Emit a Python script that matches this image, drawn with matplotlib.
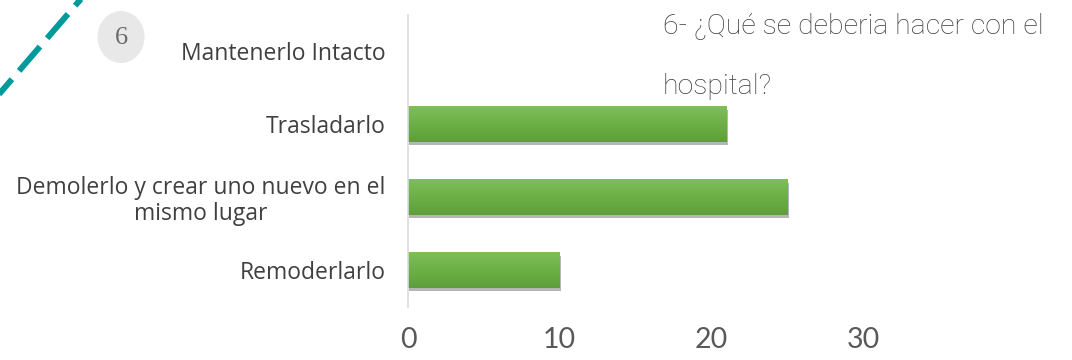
import matplotlib
matplotlib.use("Agg")
import matplotlib.pyplot as plt
import matplotlib.patheffects as pe
import numpy as np
from matplotlib.patches import Ellipse
from matplotlib.lines import Line2D
from matplotlib.colors import LinearSegmentedColormap

categories = ["Mantenerlo Intacto", "Trasladarlo",
              "Demolerlo y crear uno nuevo en el\nmismo lugar", "Remoderlarlo"]
values = [0, 21, 25, 10]
xticks = [0, 10, 20, 30]
title_lines = ["6- ¿Qué se deberia hacer con el", "hospital?"]

W, H = 1072, 360
fig = plt.figure(figsize=(W / 100, H / 100), dpi=100)
fig.patch.set_facecolor("white")

ax = fig.add_axes([408 / W, 1 - 306.5 / H, (863 - 408) / W, (306.5 - 14.5) / H])
ypos = np.arange(len(categories))
bars = ax.barh(ypos, values, height=0.48, color="#6cb045", linewidth=0,
               path_effects=[pe.SimplePatchShadow(offset=(1.0, -2.5), shadow_rgbFace="#7a7a7a", alpha=0.55),
                             pe.Normal()])

grad = np.linspace(0, 1, 64).reshape(-1, 1)
cmap = LinearSegmentedColormap.from_list("g", ["#7fbe58", "#6cb045", "#5e9e3c"])
for b in bars:
    if b.get_width() <= 0:
        continue
    x0, y0 = b.get_x(), b.get_y()
    w, h = b.get_width(), b.get_height()
    im = ax.imshow(grad, cmap=cmap, aspect="auto", extent=(x0, x0 + w, y0 + h, y0),
                   origin="upper", zorder=b.get_zorder() + 0.1)
    im.set_clip_path(b)
ax.set_xlim(0, 30)
ax.set_ylim(len(categories) - 0.5, -0.5)

ax.set_yticks(ypos)
ax.set_yticklabels(categories, fontsize=16.5, color="#404040", family="Open Sans",
                   multialignment="center", linespacing=1.1)
ax.set_xticks(xticks)
ax.set_xticklabels([str(t) for t in xticks], fontsize=20.5, color="#595959", family="Lato")
ax.tick_params(axis="y", length=0, pad=16)
ax.tick_params(axis="x", length=0, pad=15)
for s in ["top", "right", "bottom"]:
    ax.spines[s].set_visible(False)
ax.spines["left"].set_color("#d9d9d9")
ax.spines["left"].set_linewidth(1.2)
ax.set_facecolor("none")

# title
for txt, yy in zip(title_lines, [26, 87]):
    fig.text(663 / W, 1 - yy / H, txt, fontsize=20.5, color="#3c3c3c",
             family="Roboto", fontweight="light", ha="left", va="center")

# circle with number
circ = Ellipse((121 / W, 1 - 37 / H), 47 / W, 52 / H, transform=fig.transFigure,
               facecolor="#e8e8e8", edgecolor="none")
fig.add_artist(circ)
fig.text(121 / W, 1 - 37.5 / H, "6", fontsize=19, color="#6a6a6a", family="Liberation Serif",
         ha="center", va="center")

# dashed teal decoration, built from solid segments (pixel geometry)
d = np.array([-0.652, 0.758])
dash_px, gap_px = 32.0, 11.0
start = np.array([68.0, 14.0]) - d * (dash_px + gap_px)
for k in range(5):
    a = start + d * k * (dash_px + gap_px)
    b = a + d * dash_px
    fig.add_artist(Line2D([a[0] / W, b[0] / W], [1 - a[1] / H, 1 - b[1] / H],
                          transform=fig.transFigure, color="#009a9a", linewidth=4.3,
                          solid_capstyle="butt"))

fig.savefig("out.png", dpi=100)
